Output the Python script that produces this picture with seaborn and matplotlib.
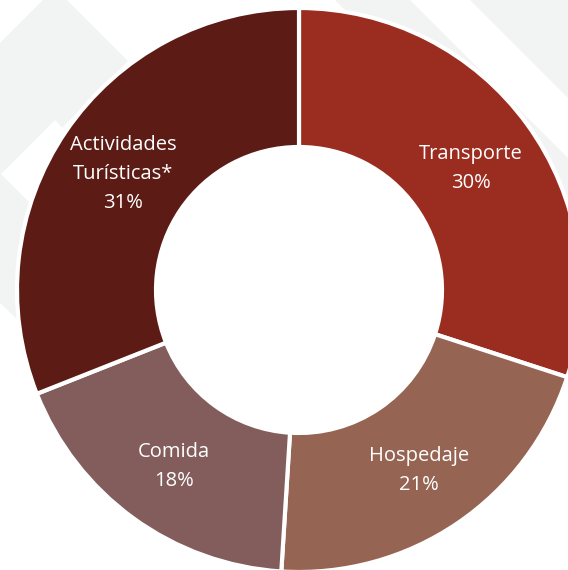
import matplotlib
matplotlib.use("Agg")
import matplotlib.pyplot as plt
from matplotlib.patches import Polygon, Circle
import seaborn as sns

# data
categories = ["Transporte", "Hospedaje", "Comida", "Actividades\nTurísticas*"]
shares = [30, 21, 18, 31]
colors = ["#9B2D20", "#956453", "#835C5C", "#5C1C15"]

W, H = 568, 570
CX, CY = 299, 290          # donut centre, pixels from top-left
R_OUT, R_IN = 282, 143

sns.set_style("white")
plt.rcParams["font.family"] = ["Open Sans", "DejaVu Sans"]

fig = plt.figure(figsize=(W / 100, H / 100), dpi=100)
ax = fig.add_axes([0, 0, 1, 1])
ax.set_xlim(0, W)
ax.set_ylim(0, H)
ax.set_aspect("equal")
ax.axis("off")

# faint diagonal watermark bands in the background
bands = [
    [(43, 0), (67, 0), (128, 61), (62, 128), (55, 120), (0, 175), (0, 43)],
    [(0, 173), (60, 233), (60, 360), (0, 303)],
    [(335, 0), (410, 0), (568, 158), (568, 233)],
    [(470, 0), (568, 0), (568, 98)],
]
for b in bands:
    ax.add_patch(Polygon([(x, H - y) for x, y in b], closed=True,
                         facecolor="#F2F3F3", edgecolor="none", zorder=0))

labels = [f"{c}\n{s}%" for c, s in zip(categories, shares)]
wedges, texts = ax.pie(
    shares, labels=labels, colors=colors,
    startangle=90, counterclock=False,
    center=(CX, H - CY), radius=R_OUT,
    labeldistance=0.755,
    wedgeprops=dict(width=R_OUT - R_IN, edgecolor="white", linewidth=3),
    textprops=dict(color="white", fontsize=14.5, linespacing=1.6),
    frame=True,
)
for t in texts:
    t.set_horizontalalignment("center")
    t.set_verticalalignment("center")
    x, y = t.get_position()
    t.set_position((x, y - 4))

ax.add_patch(Circle((CX, H - CY), R_IN - 1, facecolor="white",
                    edgecolor="none", zorder=0.5))
ax.set_xlim(0, W)
ax.set_ylim(0, H)
ax.axis("off")

fig.savefig("out.png", dpi=100, facecolor="white")
